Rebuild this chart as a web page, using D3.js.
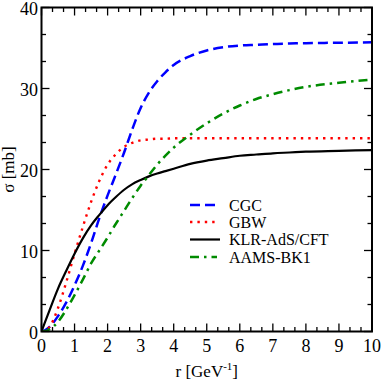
<!DOCTYPE html>
<html><head><meta charset="utf-8">
<script src="https://cdn.jsdelivr.net/npm/d3@7"></script>
<style>
body{margin:0;background:#fff}svg{display:block}
svg text, svg tspan{font-family:'Liberation Serif','Times New Roman',Times,serif !important}
</style>
</head><body><svg id="c" width="382" height="382"></svg>
<script>
const rGrid = [0, 0.1, 0.25, 0.5, 0.75, 1, 1.25, 1.5, 1.75, 2, 2.25, 2.5, 2.75, 3, 3.25, 3.5, 3.75, 4, 4.5, 5, 5.5, 6, 6.5, 7, 7.5, 8, 9, 10];
const cgc  = [0, 0.15, 0.6, 1.9, 3.6, 5.7, 8.1, 10.9, 14.0, 16.8, 19.4, 22.1, 25.0, 27.6, 29.5, 30.9, 32.0, 32.9, 34.0, 34.7, 35.1, 35.3, 35.4, 35.5, 35.55, 35.6, 35.65, 35.7];
const gbw  = [0, 0.1, 0.6, 2.9, 6.1, 9.6, 12.9, 16.0, 18.6, 20.6, 21.9, 22.8, 23.3, 23.6, 23.7, 23.8, 23.8, 23.85, 23.85, 23.85, 23.85, 23.85, 23.85, 23.85, 23.85, 23.85, 23.85, 23.85];
const klr  = [0, 1.1, 2.7, 5.3, 7.5, 9.6, 11.5, 13.1, 14.4, 15.6, 16.6, 17.5, 18.2, 18.7, 19.15, 19.5, 19.8, 20.1, 20.7, 21.1, 21.4, 21.7, 21.85, 22.0, 22.1, 22.2, 22.3, 22.4];
const aams = [0, 0.05, 0.3, 1.2, 2.7, 4.5, 6.4, 8.4, 10.0, 11.6, 13.3, 14.9, 16.5, 18.0, 19.3, 20.6, 21.7, 22.7, 24.3, 25.7, 26.9, 27.9, 28.7, 29.3, 29.8, 30.2, 30.7, 31.1];
const seriesNames = ["CGC", "GBW", "KLR-AdS/CFT", "AAMS-BK1"];
const xTicks = [0, 1, 2, 3, 4, 5, 6, 7, 8, 9, 10];
const yTicks = [0, 10, 20, 30, 40];

const FONT = "'Liberation Serif', 'Times New Roman', Times, serif";
const styles = [
  {color: "#0000ff", width: 2.5, dash: "10,5"},
  {color: "#ff0000", width: 2.4, dash: "2.4,5"},
  {color: "#000000", width: 2.2, dash: null},
  {color: "#008b00", width: 2.5, dash: "9,5,2.5,5"}
];
const values = [cgc, gbw, klr, aams];

const L = 41.5, R = 372, T = 7.5, B = 331.5;
const x = d3.scaleLinear().domain([0, 10]).range([L, R]);
const y = d3.scaleLinear().domain([0, 40]).range([B, T]);
const svg = d3.select("#c");

function txt(sel) { return sel.style("font-family", FONT, "important"); }

svg.append("clipPath").attr("id", "clip").append("rect")
  .attr("x", L).attr("y", T).attr("width", R - L).attr("height", B - T);

const line = d3.line().x(d => x(d[0])).y(d => y(d[1])).curve(d3.curveMonotoneX);
const g = svg.append("g").attr("clip-path", "url(#clip)");
values.forEach((v, i) => {
  const pts = rGrid.map((r, j) => [r, v[j]]);
  g.append("path").attr("d", line(pts)).attr("fill", "none")
    .attr("stroke", styles[i].color).attr("stroke-width", styles[i].width)
    .attr("stroke-dasharray", styles[i].dash);
});

// ticks (inward, mirrored)
const xMinor = d3.range(0, 31).map(k => k / 3);
const yMinor = d3.range(0, 13).map(k => k * 10 / 3);
const tk = svg.append("g").attr("stroke", "#000").attr("stroke-width", 1.3);
xMinor.forEach(v => {
  const major = Math.abs(v - Math.round(v)) < 1e-6;
  const len = major ? 8 : 4.5;
  tk.append("line").attr("x1", x(v)).attr("x2", x(v)).attr("y1", B).attr("y2", B - len);
  tk.append("line").attr("x1", x(v)).attr("x2", x(v)).attr("y1", T).attr("y2", T + len);
});
yMinor.forEach(v => {
  const major = Math.abs(v / 10 - Math.round(v / 10)) < 1e-6;
  const len = major ? 8 : 4.5;
  tk.append("line").attr("y1", y(v)).attr("y2", y(v)).attr("x1", L).attr("x2", L + len);
  tk.append("line").attr("y1", y(v)).attr("y2", y(v)).attr("x1", R).attr("x2", R - len);
});

svg.append("rect").attr("x", L).attr("y", T).attr("width", R - L).attr("height", B - T)
  .attr("fill", "none").attr("stroke", "#000").attr("stroke-width", 2);

// tick labels
txt(svg.append("g").selectAll("text").data(xTicks).join("text"))
  .attr("x", d => x(d)).attr("y", 351.5).attr("text-anchor", "middle")
  .attr("font-size", 18).text(d => d);
txt(svg.append("g").selectAll("text").data(yTicks).join("text"))
  .attr("x", 38).attr("y", d => y(d) + 7).attr("text-anchor", "end")
  .attr("font-size", 18).text(d => d);

// axis titles
const xt = txt(svg.append("text")).attr("x", (L + R) / 2).attr("y", 377).attr("text-anchor", "middle").attr("font-size", 17);
xt.append("tspan").text("r [GeV");
xt.append("tspan").attr("dy", -7).attr("font-size", 11).text("-1");
xt.append("tspan").attr("dy", 7).text("]");
txt(svg.append("text")).attr("transform", `translate(14,${(T + B) / 2}) rotate(-90)`)
  .attr("text-anchor", "middle").attr("font-size", 17).text("σ [mb]");

// legend
const legY = [205, 222, 239.5, 257];
seriesNames.forEach((name, i) => {
  svg.append("line").attr("x1", 190).attr("x2", i === 2 ? 220 : 217)
    .attr("y1", legY[i]).attr("y2", legY[i])
    .attr("stroke", styles[i].color).attr("stroke-width", styles[i].width)
    .attr("stroke-dasharray", styles[i].dash);
  txt(svg.append("text")).attr("x", 229).attr("y", legY[i] + 5.5).attr("font-size", 16).text(name);
});
</script></body></html>
